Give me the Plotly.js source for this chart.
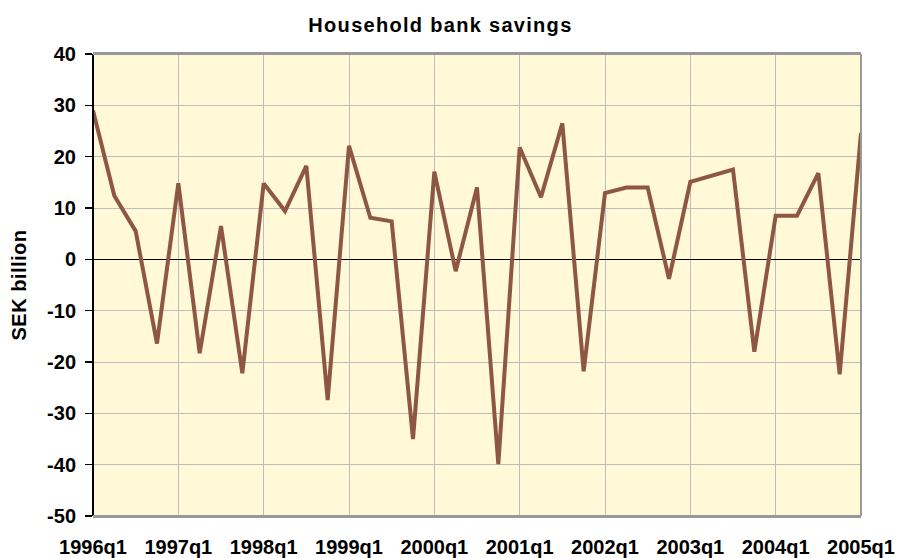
<!DOCTYPE html>
<html>
<head>
<meta charset="utf-8">
<script src="https://cdn.plot.ly/plotly-3.0.1.min.js"></script>
<style>
html, body { margin: 0; padding: 0; background: #ffffff; }
#chart { width: 898px; height: 558px; }
#chart .gtitle { letter-spacing: 1.3px; }
#chart .g-ytitle text { letter-spacing: 0.5px; }
</style>
</head>
<body>
<div id="chart"></div>
<script>
var quarters = [
  "1996q1","1996q2","1996q3","1996q4",
  "1997q1","1997q2","1997q3","1997q4",
  "1998q1","1998q2","1998q3","1998q4",
  "1999q1","1999q2","1999q3","1999q4",
  "2000q1","2000q2","2000q3","2000q4",
  "2001q1","2001q2","2001q3","2001q4",
  "2002q1","2002q2","2002q3","2002q4",
  "2003q1","2003q2","2003q3","2003q4",
  "2004q1","2004q2","2004q3","2004q4",
  "2005q1"
];
var savings = [
  29.0, 12.4, 5.5, -16.4,
  14.8, -18.3, 6.5, -22.2,
  14.8, 9.4, 18.2, -27.4,
  22.1, 8.1, 7.4, -35.0,
  17.1, -2.3, 14.0, -39.9,
  21.8, 12.1, 26.5, -21.8,
  12.9, 14.0, 14.0, -3.8,
  15.1, 16.3, 17.5, -18.0,
  8.5, 8.5, 16.8, -22.4,
  24.6
];
var xTickLabels = ["1996q1","1997q1","1998q1","1999q1","2000q1","2001q1","2002q1","2003q1","2004q1","2005q1"];
var yTicks = [40, 30, 20, 10, 0, -10, -20, -30, -40, -50];
var yTickLabels = ["40","30","20","10","0","-10","-20","-30","-40","-50"];

var fontFam = "Liberation Sans, Arial, sans-serif";

var trace = {
  type: "scatter",
  mode: "lines",
  x: quarters,
  y: savings,
  line: { color: "#8E5744", width: 4 },
  hoverinfo: "x+y"
};

var layout = {
  width: 898,
  height: 558,
  margin: { l: 93, r: 37, t: 54, b: 42, pad: 0 },
  paper_bgcolor: "#ffffff",
  plot_bgcolor: "#FFF9D7",
  showlegend: false,
  title: {
    text: "Household bank savings",
    font: { family: fontFam, size: 20, color: "#000000", weight: "bold" },
    x: 0.4905,
    xref: "container",
    xanchor: "center",
    y: 0.955,
    yref: "container",
    yanchor: "middle"
  },
  xaxis: {
    type: "category",
    categoryorder: "array",
    categoryarray: quarters,
    range: [0, 36],
    tickmode: "array",
    tickvals: xTickLabels,
    ticktext: xTickLabels,
    ticks: "",
    ticklabelstandoff: 12,
    tickfont: { family: fontFam, size: 20, color: "#000000", weight: "bold" },
    showgrid: true,
    gridcolor: "#BDBDBD",
    gridwidth: 1,
    showline: true,
    linecolor: "#999999",
    linewidth: 2,
    mirror: true,
    zeroline: false,
    fixedrange: true
  },
  yaxis: {
    range: [-50, 40],
    tickmode: "array",
    tickvals: yTicks,
    ticktext: yTickLabels,
    ticks: "outside",
    ticklen: 7,
    tickwidth: 1.5,
    tickcolor: "#000000",
    ticklabelstandoff: 5,
    tickfont: { family: fontFam, size: 20, color: "#000000", weight: "bold" },
    showgrid: true,
    gridcolor: "#BDBDBD",
    gridwidth: 1,
    showline: false,
    zeroline: true,
    zerolinecolor: "#000000",
    zerolinewidth: 1,
    automargin: false,
    title: {
      text: "SEK billion",
      font: { family: fontFam, size: 20, color: "#000000", weight: "bold" },
      standoff: 15
    },
    fixedrange: true
  },
  shapes: [
    { type: "line", xref: "paper", yref: "paper", x0: 0, x1: 0, y0: 0, y1: 1,
      line: { color: "#000000", width: 2 } },
    { type: "line", xref: "paper", yref: "paper", x0: 0, x1: 1, y0: 1, y1: 1,
      line: { color: "#999999", width: 2 } },
    { type: "line", xref: "paper", yref: "paper", x0: 1, x1: 1, y0: 0, y1: 1,
      line: { color: "#999999", width: 2 } },
    { type: "line", xref: "paper", yref: "paper", x0: 0, x1: 1, y0: 0, y1: 0,
      line: { color: "#999999", width: 2 } }
  ]
};

Plotly.newPlot("chart", [trace], layout, { displayModeBar: false, staticPlot: true });
</script>
</body>
</html>
